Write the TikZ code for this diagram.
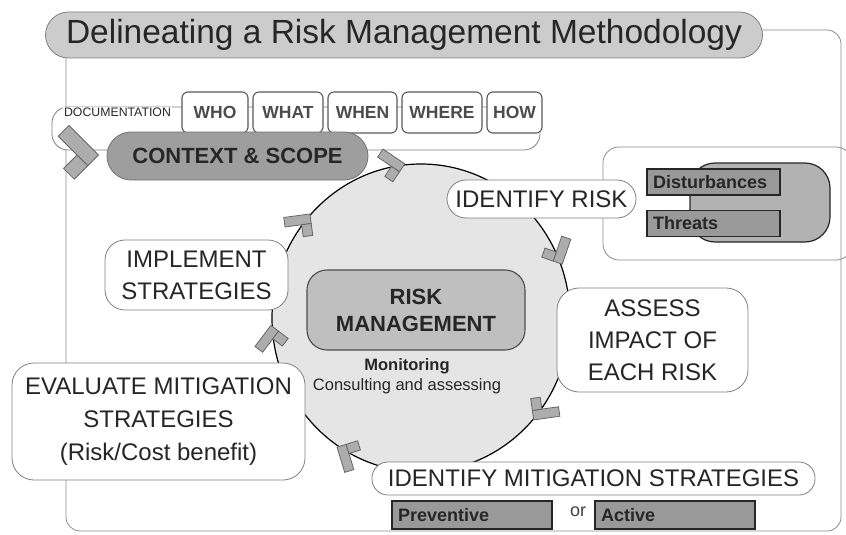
\documentclass[tikz,border=0pt]{standalone}
\usepackage{fontspec}
\setmainfont{Liberation Sans}
\usetikzlibrary{shapes.geometric}
\newcommand\bend[3]{%
\begin{scope}[shift={#1},rotate=#2,scale=#3]
\draw[markbar] (8,-8) rectangle (-14,0);
\draw[markbar] (8,0) rectangle (0,10);
\end{scope}}
\begin{document}
\begin{tikzpicture}[x=1pt,y=-1pt,frame/.style={draw=black!45,line width=0.8pt,rounded corners=14pt},stage/.style={draw=black!50,fill=white,line width=0.8pt,align=center,text=black!85,inner sep=0pt,font=\fontsize{24}{32}\selectfont},ask/.style={draw=black!65,fill=white,line width=1.1pt,rounded corners=6pt,inner sep=0pt,minimum height=41pt,text=black!70,font=\bfseries\fontsize{17.5}{20}\selectfont},tag/.style={draw=black!85,fill=black!40,line width=1.5pt,inner xsep=6pt,inner ysep=0pt,minimum height=26pt,text=black!85,font=\bfseries\fontsize{18}{20}\selectfont,align=left},markbar/.style={draw=black!60,fill=black!32,line width=0.8pt}]
\useasboundingbox (0,0) rectangle (846,535);
\def\rowy{112.5};

\draw[frame] (760,30) -- (841,30) -- (841,531) -- (66,531) -- (66,50);
\node[draw=black!50,fill=black!20,line width=0.8pt,rounded corners=23pt,minimum width=717pt,minimum height=46pt,inner sep=0pt,text=black!85,font=\fontsize{33.5}{40}\selectfont] (title) at (404,35) {Delineating a Risk Management Methodology};

\node[draw=black!50,fill=white,line width=0.8pt,rounded corners=16pt,minimum width=488pt,minimum height=43pt] (docbar) at (296,128.5) {};
\node[fill=white,inner sep=1pt,text=black!85,font=\fontsize{12.3}{14}\selectfont] (doc) at (117.5,\rowy) {DOCUMENTATION};
\foreach \n/\x/\w in {WHO/215/66,WHAT/288/70,WHEN/362.5/69,WHERE/442/80,HOW/514.5/55}
  \node[ask,minimum width=\w pt] (\n) at (\x,\rowy) {\n};
\node[draw=black!55,fill=black!38,line width=0.8pt,rounded corners=24pt,minimum width=261pt,minimum height=48pt,inner sep=0pt,text=black!85,font=\bfseries\fontsize{22}{26}\selectfont] (context) at (237.5,156) {CONTEXT \& SCOPE};
\bend{(77,155)}{-45}{1.9}

\node[ellipse,draw=black,fill=black!10,line width=1.2pt,minimum width=298pt,minimum height=308pt,inner sep=0pt] (cycle) at (421,318) {};
\node[draw=black!70,fill=black!25,line width=1.1pt,rounded corners=20pt,minimum width=218pt,minimum height=80pt,align=center,inner sep=0pt,text=black!85,font=\bfseries\fontsize{22}{27}\selectfont] (risk) at (416,310) {RISK\\MANAGEMENT};
\node[text=black!85,font=\bfseries\fontsize{16.5}{19}\selectfont] (monitor) at (407,366) {Monitoring};
\node[text=black!85,font=\fontsize{16.5}{19}\selectfont] (consult) at (407,386) {Consulting and assessing};
\foreach \a in {26,101,142.6,188,242,323}
  {\bend{(cycle.\a)}{\a-135}{1.2}}

\node[draw=black!45,line width=0.8pt,rounded corners=16pt,minimum width=249pt,minimum height=113pt] (riskbox) at (727.5,203.5) {};
\node[draw=black!85,fill=black!30,line width=1.2pt,rounded corners=25pt,minimum width=140pt,minimum height=79pt] (holder) at (760,202.5) {};
\node[tag,text width=121pt] (dist) at (713.5,182) {Disturbances};
\node[tag,text width=121pt] (threats) at (713.5,223.5) {Threats};

\node[stage,rounded corners=19pt,minimum width=189pt,minimum height=38pt] (identify) at (541.5,199) {IDENTIFY RISK};
\node[stage,rounded corners=22pt,minimum width=191pt,minimum height=104pt] (assess) at (652.5,340) {ASSESS\\IMPACT OF\\EACH RISK};
\node[stage,rounded corners=20pt,minimum width=183pt,minimum height=70pt] (implement) at (196.5,275) {IMPLEMENT\\STRATEGIES};
\node[stage,rounded corners=22pt,minimum width=293pt,minimum height=117pt,font=\fontsize{24}{33}\selectfont] (evaluate) at (158.5,421.5) {EVALUATE MITIGATION\\STRATEGIES\\(Risk/Cost benefit)};
\node[stage,rounded corners=16pt,minimum width=443pt,minimum height=33pt] (mitigate) at (593.5,478.5) {IDENTIFY MITIGATION STRATEGIES};
\node[tag,text width=148pt,minimum height=28pt] (prev) at (472,515) {Preventive};
\node[text=black!75,font=\fontsize{18}{20}\selectfont] (or) at (578,512) {or};
\node[tag,text width=148pt,minimum height=28pt] (active) at (675,515) {Active};
\end{tikzpicture}
\end{document}
